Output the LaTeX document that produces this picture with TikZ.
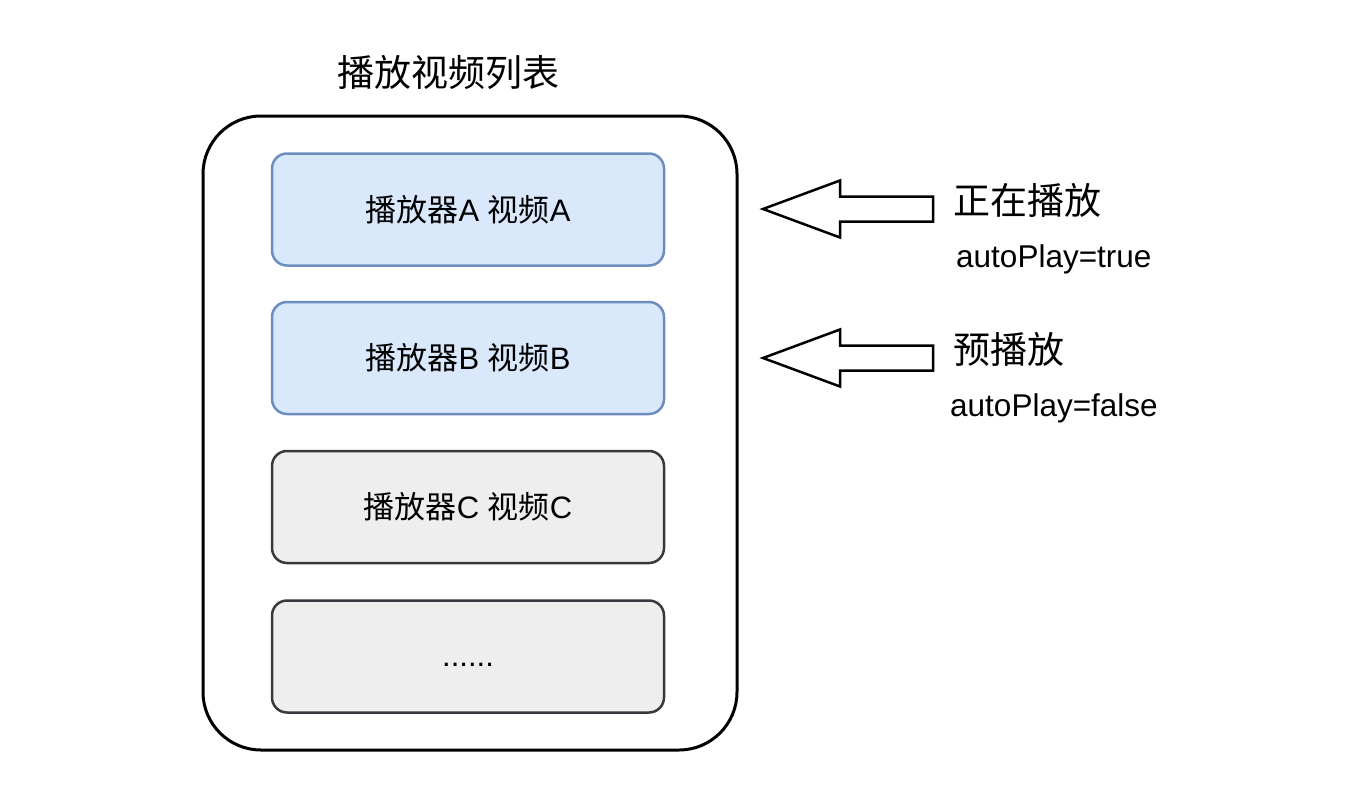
\documentclass[tikz,border=0pt]{standalone}
\usepackage{fontspec}
\setmainfont{Liberation Sans}
\newfontfamily\cjk{Noto Sans CJK SC}
\definecolor{blueFill}{HTML}{DAE8FC}
\definecolor{blueLine}{HTML}{6C8EBF}
\definecolor{grayFill}{HTML}{EEEEEE}
\definecolor{grayLine}{HTML}{36393D}
\begin{document}
\begin{tikzpicture}[x=1pt,y=-1pt,
  outerbox/.style={draw=black, line width=3pt, rounded corners=58pt,
    minimum width=534pt, minimum height=634pt},
  item/.style={rounded corners=15pt, line width=2.5pt,
    minimum width=392pt, minimum height=112pt, font=\fontsize{31}{36}\selectfont},
  blueitem/.style={item, draw=blueLine, fill=blueFill},
  grayitem/.style={item, draw=grayLine, fill=grayFill},
  caption/.style={font=\fontsize{37}{44}\selectfont},
  label/.style={anchor=west, inner sep=0pt, font=\fontsize{37}{44}\selectfont\cjk},
  code/.style={anchor=west, inner sep=0pt, font=\fontsize{31.5}{37}\selectfont},
  blockarrow/.style={draw=black, line width=2.5pt, fill=white, line join=miter}]
\useasboundingbox (0,0) rectangle (1358,792);

% list container and its title
\node[outerbox] (list) at (470,433) {};
\node[caption] (title) at (448,72) {\cjk 播放视频列表};

% player slots
\node[blueitem] (pa) at (468,209.5) {{\cjk 播放器}A {\cjk 视频}A};
\node[blueitem] (pb) at (468,358) {{\cjk 播放器}B {\cjk 视频}B};
\node[grayitem] (pc) at (468,507) {{\cjk 播放器}C {\cjk 视频}C};
\node[grayitem] (pd) at (468,656.5) {};
\node[font=\fontsize{31}{36}\selectfont] (more) at ([yshift=-8pt]pd.center) {......};

% hollow block arrows pointing at the active slots
\coordinate (tipa) at (763,209);
\coordinate (tipb) at (763,358);
\draw[blockarrow] (tipa) -- ++(77,-28.5) -- ++(0,16) -- ++(93,0) -- ++(0,25)
  -- ++(-93,0) -- ++(0,16) -- cycle;
\draw[blockarrow] (tipb) -- ++(77,-28.5) -- ++(0,16) -- ++(93,0) -- ++(0,25)
  -- ++(-93,0) -- ++(0,16) -- cycle;

% state labels
\node[label] (la) at (953,200) {正在播放};
\node[code] (ca) at (956,259) {autoPlay=true};
\node[label] (lb) at (953,349) {预播放};
\node[code] (cb) at (950,408) {autoPlay=false};
\end{tikzpicture}
\end{document}
